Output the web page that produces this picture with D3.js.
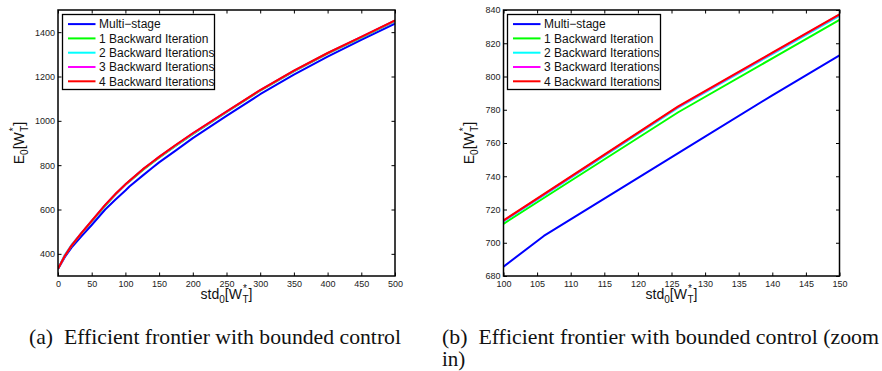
<!DOCTYPE html>
<html>
<head>
<meta charset="utf-8">
<script src="https://cdn.jsdelivr.net/npm/d3@7"></script>
<style>
  html, body { margin: 0; padding: 0; background: #fff; }
  svg { display: block; }
</style>
</head>
<body>
<svg id="chart" width="882" height="371"></svg>
<script>
// ---------------- DATA ----------------
const stdValues = [0, 10, 20, 35, 50, 70, 85, 100, 106, 126, 140, 150, 175, 200, 250, 300, 350, 400, 450, 500];
const multiStage = [332, 385, 428, 480, 530, 600, 644, 685.6, 704.1, 753.9, 788.7, 812.7, 867, 922, 1022, 1120, 1208, 1290, 1365, 1438];
const backward1 = [332, 390, 436, 493, 546, 617, 666, 711.4, 726.9, 778.5, 810.9, 834.0, 888, 940, 1039, 1136, 1223, 1303, 1376, 1450];
const backward2 = [332, 395, 440, 495, 548, 619, 668, 712.8, 728.5, 781.2, 813.5, 836.5, 890, 942, 1041, 1138, 1225, 1305, 1378, 1452];
const backward3 = [332, 390, 437, 495, 549, 621, 669, 713.2, 729.0, 781.8, 814.1, 837.2, 891, 943.5, 1041.5, 1138.5, 1225.5, 1305.5, 1378.5, 1452.5];
const backward4 = [332, 390, 437, 495, 549, 621, 669.5, 713.4, 729.2, 782.0, 814.3, 837.4, 892, 944, 1042, 1139, 1226, 1306, 1379, 1453];

const seriesNames = ["Multi\u2212stage", "1 Backward Iteration", "2 Backward Iterations", "3 Backward Iterations", "4 Backward Iterations"];
const seriesColors = ["#0000ff", "#00ff00", "#00ffff", "#ff00ff", "#ff0000"];
const seriesValues = [multiStage, backward1, backward2, backward3, backward4];

const leftXTicks = [0, 50, 100, 150, 200, 250, 300, 350, 400, 450, 500];
const leftYTicks = [400, 600, 800, 1000, 1200, 1400];
const rightXTicks = [100, 105, 110, 115, 120, 125, 130, 135, 140, 145, 150];
const rightYTicks = [680, 700, 720, 740, 760, 780, 800, 820, 840];

const captions = [
  ["(a)  Efficient frontier with bounded control"],
  ["(b)  Efficient frontier with bounded control (zoom", "in)"]
];

// ---------------- LAYOUT ----------------
const svg = d3.select("#chart");
const sansFont = "'Liberation Sans', Arial, Helvetica, sans-serif";
const serifFont = "'Liberation Serif', 'Times New Roman', serif";

const panels = [
  { id: "a", x0: 58, x1: 395, y0: 10, y1: 276, xDomain: [0, 500], yDomain: [300, 1500],
    xTicks: leftXTicks, yTicks: leftYTicks, ylabelX: 23.5,
    legend: { x: 62.5, y: 14.5, w: 152, h: 75, lx0: 68, lx1: 95.5, tx: 99 },
    caption: { x: 29, y: 344, len: [372] } },
  { id: "b", x0: 503.5, x1: 839.5, y0: 10, y1: 276, xDomain: [100, 150], yDomain: [680, 840],
    xTicks: rightXTicks, yTicks: rightYTicks, ylabelX: 473.5,
    legend: { x: 507.5, y: 14.5, w: 153, h: 75, lx0: 513, lx1: 540.5, tx: 544 },
    caption: { x: 442, y: 344, len: [437, null] } }
];

panels.forEach((p, pi) => {
  const g = svg.append("g");
  const x = d3.scaleLinear().domain(p.xDomain).range([p.x0, p.x1]);
  const y = d3.scaleLinear().domain(p.yDomain).range([p.y1, p.y0]);
  const tick = 3.5;

  // clip
  const clipId = "clip-" + p.id;
  svg.append("defs").append("clipPath").attr("id", clipId)
    .append("rect").attr("x", p.x0).attr("y", p.y0)
    .attr("width", p.x1 - p.x0).attr("height", p.y1 - p.y0);

  // series lines
  const line = d3.line().x(d => x(d.s)).y(d => y(d.v));
  const lg = g.append("g").attr("clip-path", `url(#${clipId})`);
  seriesValues.forEach((vals, k) => {
    const data = stdValues.map((s, i) => ({ s, v: vals[i] }));
    lg.append("path").datum(data)
      .attr("d", line)
      .attr("fill", "none")
      .attr("stroke", seriesColors[k])
      .attr("stroke-width", 2)
      .attr("stroke-linejoin", "round");
  });

  // axes
  const styleAxis = sel => {
    sel.select(".domain").remove();
    sel.selectAll(".tick line").attr("stroke", "#000").attr("stroke-width", 1);
    sel.selectAll(".tick text").attr("fill", "#222").attr("font-family", sansFont).attr("font-size", 9);
  };
  g.append("g").attr("transform", `translate(0,${p.y1})`)
    .call(d3.axisBottom(x).tickValues(p.xTicks).tickSizeInner(-tick).tickSizeOuter(0).tickPadding(5).tickFormat(d3.format("d")))
    .call(styleAxis);
  g.append("g").attr("transform", `translate(0,${p.y0})`)
    .call(d3.axisTop(x).tickValues(p.xTicks).tickSizeInner(-tick).tickSizeOuter(0).tickFormat(""))
    .call(styleAxis);
  g.append("g").attr("transform", `translate(${p.x0},0)`)
    .call(d3.axisLeft(y).tickValues(p.yTicks).tickSizeInner(-tick).tickSizeOuter(0).tickPadding(3).tickFormat(d3.format("d")))
    .call(styleAxis);
  g.append("g").attr("transform", `translate(${p.x1},0)`)
    .call(d3.axisRight(y).tickValues(p.yTicks).tickSizeInner(-tick).tickSizeOuter(0).tickFormat(""))
    .call(styleAxis);

  // frame
  g.append("rect").attr("x", p.x0).attr("y", p.y0)
    .attr("width", p.x1 - p.x0).attr("height", p.y1 - p.y0)
    .attr("fill", "none").attr("stroke", "#000").attr("stroke-width", 1.5);

  // axis labels
  const buildLabel = (t, first) => {
    t.append("tspan").text(first);
    t.append("tspan").attr("font-size", 10).attr("dy", 4).text("0");
    t.append("tspan").attr("font-size", 14).attr("dy", -4).text("[W");
    t.append("tspan").attr("font-size", 10).attr("dx", 1).attr("dy", -7).text("*");
    t.append("tspan").attr("font-size", 10).attr("dx", -4.4).attr("dy", 11).text("T");
    t.append("tspan").attr("font-size", 14).attr("dy", -4).text("]");
  };
  const xl = g.append("text")
    .attr("x", (p.x0 + p.x1) / 2).attr("y", 298.5)
    .attr("text-anchor", "middle").attr("font-family", sansFont)
    .attr("font-size", 14).attr("fill", "#111");
  buildLabel(xl, "std");
  const yl = g.append("text")
    .attr("transform", `translate(${p.ylabelX},${(p.y0 + p.y1) / 2}) rotate(-90)`)
    .attr("text-anchor", "middle").attr("font-family", sansFont)
    .attr("font-size", 14).attr("fill", "#111");
  buildLabel(yl, "E");

  // legend
  const L = p.legend;
  const leg = g.append("g");
  leg.append("rect").attr("x", L.x).attr("y", L.y).attr("width", L.w).attr("height", L.h)
    .attr("fill", "#fff").attr("stroke", "#000").attr("stroke-width", 1.3);
  seriesNames.forEach((name, k) => {
    const cy = L.y + 9.6 + k * 14.3;
    leg.append("line").attr("x1", L.lx0).attr("x2", L.lx1).attr("y1", cy).attr("y2", cy)
      .attr("stroke", seriesColors[k]).attr("stroke-width", 2);
    leg.append("text").attr("x", L.tx).attr("y", cy + 4.3)
      .attr("font-family", sansFont).attr("font-size", 12).attr("fill", "#111")
      .text(name);
  });

  // caption
  captions[pi].forEach((c, j) => {
    const t = svg.append("text")
      .attr("x", p.caption.x).attr("y", p.caption.y + j * 22)
      .attr("font-family", serifFont).attr("font-size", 21).attr("fill", "#111")
      .style("white-space", "pre")
      .text(c);
    if (p.caption.len[j]) t.attr("textLength", p.caption.len[j]).attr("lengthAdjust", "spacingAndGlyphs");
  });
});
</script>
</body>
</html>
